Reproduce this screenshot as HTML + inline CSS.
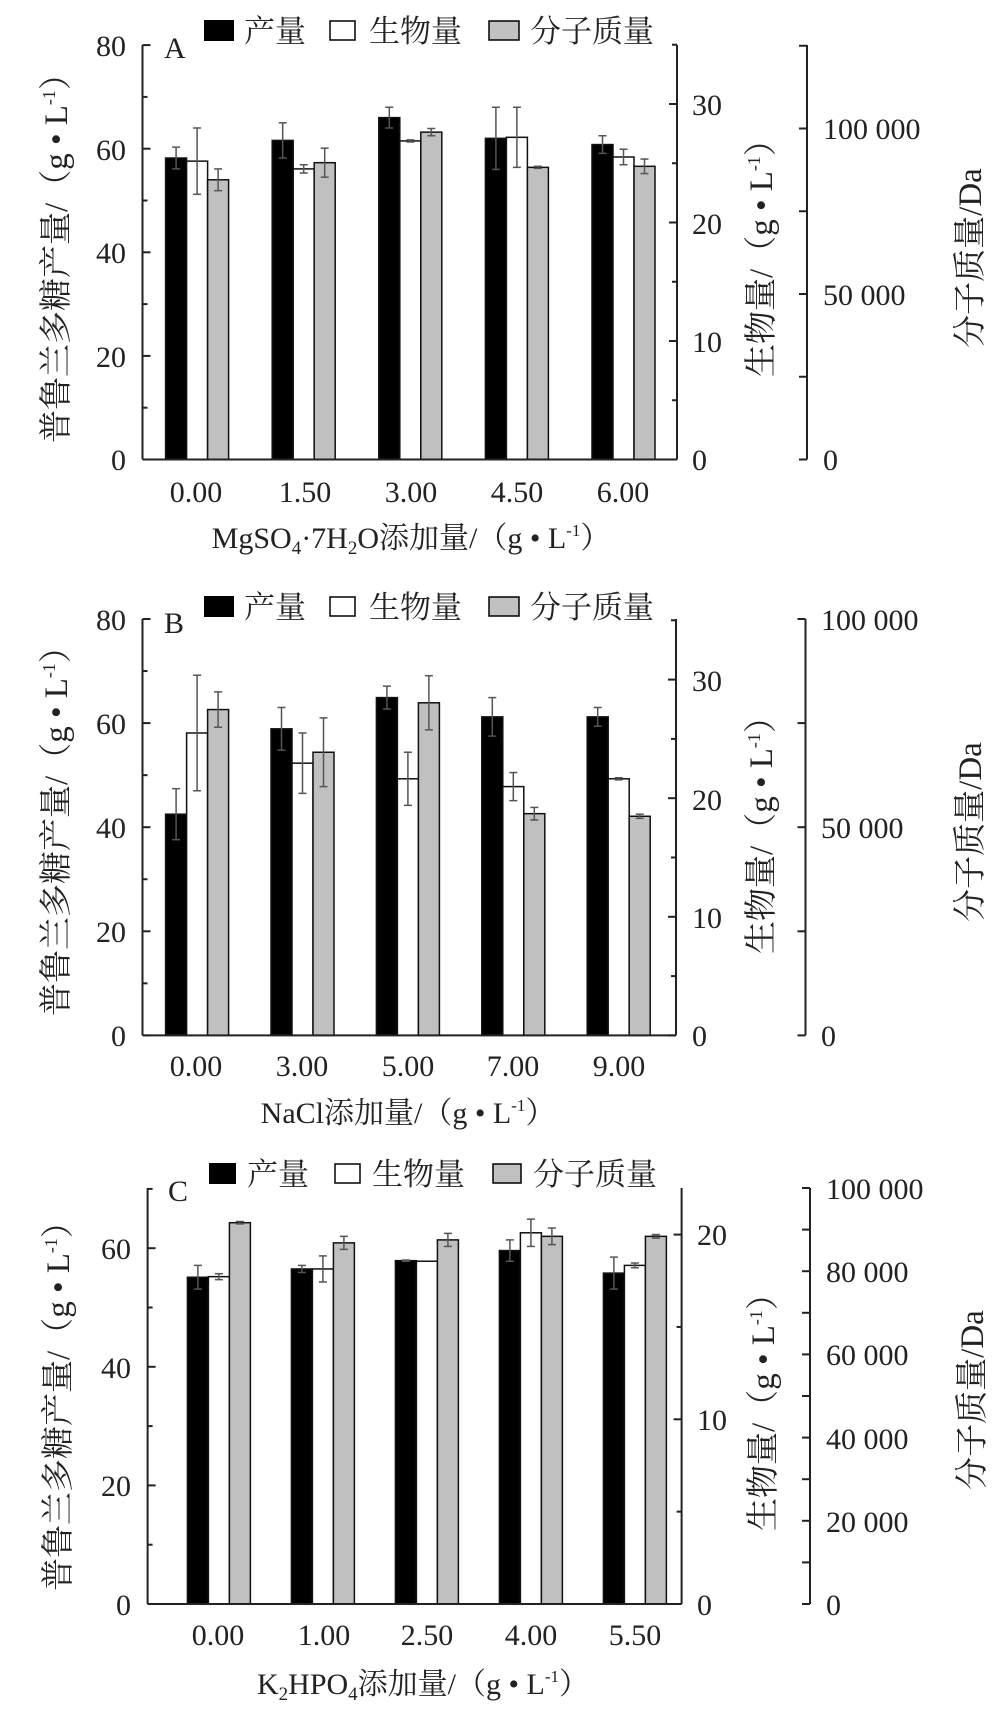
<!DOCTYPE html>
<html><head><meta charset="utf-8"><style>
html,body{margin:0;padding:0;background:#fff}
svg{display:block}
text{font-family:"Liberation Serif","Noto Serif CJK SC","Noto Sans CJK SC",serif;fill:#222}
.t{font-size:30px}
.v{font-size:33px}
.c{font-size:31px}
</style></head><body>
<svg id="s" width="1001" height="1727" viewBox="0 0 1001 1727" xmlns="http://www.w3.org/2000/svg">
<g id="g"></g>
<g class="t" text-anchor="end">
<text x="126" y="56">80</text><text x="126" y="160">60</text><text x="126" y="263">40</text><text x="126" y="367">20</text><text x="126" y="470">0</text>
</g>
<g class="t" text-anchor="start">
<text x="692" y="115">30</text><text x="692" y="234">20</text><text x="692" y="352">10</text><text x="692" y="470">0</text>
<text x="823" y="139">100 000</text><text x="823" y="305">50 000</text><text x="823" y="470">0</text>
</g>
<g class="t" text-anchor="middle">
<text x="196" y="502">0.00</text><text x="305" y="502">1.50</text><text x="411" y="502">3.00</text><text x="517" y="502">4.50</text><text x="623" y="502">6.00</text>
<text x="411" y="548">MgSO<tspan font-size="19" dy="6">4</tspan><tspan dy="-6">·7H</tspan><tspan font-size="19" dy="6">2</tspan><tspan dy="-6">O添加量/（g • L</tspan><tspan font-size="17" dy="-12">-1</tspan><tspan dy="12">）</tspan></text>
</g>
<text class="t" x="164" y="58">A</text>
<rect x="204" y="20" width="30" height="21" fill="#000"/><text class="c" x="244" y="42">产量</text>
<rect x="330" y="21" width="25" height="19" fill="#fff" stroke="#000" stroke-width="1.5"/><text class="c" x="369" y="42">生物量</text>
<rect x="489" y="21" width="30" height="19" fill="#c0c0c0" stroke="#000" stroke-width="1.5"/><text class="c" x="530" y="42">分子质量</text>
<text class="v" text-anchor="middle" transform="translate(67,250) rotate(-90)">普鲁兰多糖产量/（g • L<tspan font-size="18" dy="-12">-1</tspan><tspan dy="12">）</tspan></text>
<text class="v" text-anchor="middle" transform="translate(772,250) rotate(-90)">生物量/（g • L<tspan font-size="18" dy="-12">-1</tspan><tspan dy="12">）</tspan></text>
<text class="v" text-anchor="middle" transform="translate(981,258) rotate(-90)">分子质量/Da</text>

<g class="t" text-anchor="end">
<text x="126" y="630">80</text><text x="126" y="734">60</text><text x="126" y="838">40</text><text x="126" y="942">20</text><text x="126" y="1046">0</text>
</g>
<g class="t" text-anchor="start">
<text x="692" y="691">30</text><text x="692" y="810">20</text><text x="692" y="928">10</text><text x="692" y="1046">0</text>
<text x="821" y="630">100 000</text><text x="821" y="838">50 000</text><text x="821" y="1046">0</text>
</g>
<g class="t" text-anchor="middle">
<text x="196" y="1076">0.00</text><text x="302" y="1076">3.00</text><text x="408" y="1076">5.00</text><text x="513" y="1076">7.00</text><text x="619" y="1076">9.00</text>
<text x="408" y="1123">NaCl添加量/（g • L<tspan font-size="17" dy="-12">-1</tspan><tspan dy="12">）</tspan></text>
</g>
<text class="t" x="164" y="633">B</text>
<rect x="204" y="596" width="30" height="21" fill="#000"/><text class="c" x="244" y="618">产量</text>
<rect x="330" y="597" width="25" height="19" fill="#fff" stroke="#000" stroke-width="1.5"/><text class="c" x="369" y="618">生物量</text>
<rect x="489" y="597" width="30" height="19" fill="#c0c0c0" stroke="#000" stroke-width="1.5"/><text class="c" x="530" y="618">分子质量</text>
<text class="v" text-anchor="middle" transform="translate(67,823) rotate(-90)">普鲁兰多糖产量/（g • L<tspan font-size="18" dy="-12">-1</tspan><tspan dy="12">）</tspan></text>
<text class="v" text-anchor="middle" transform="translate(772,827) rotate(-90)">生物量/（g • L<tspan font-size="18" dy="-12">-1</tspan><tspan dy="12">）</tspan></text>
<text class="v" text-anchor="middle" transform="translate(981,832) rotate(-90)">分子质量/Da</text>

<g class="t" text-anchor="end">
<text x="131" y="1259">60</text><text x="131" y="1378">40</text><text x="131" y="1496">20</text><text x="131" y="1615">0</text>
</g>
<g class="t" text-anchor="start">
<text x="697" y="1245">20</text><text x="697" y="1430">10</text><text x="697" y="1615">0</text>
<text x="826" y="1199">100 000</text><text x="826" y="1282">80 000</text><text x="826" y="1365">60 000</text><text x="826" y="1449">40 000</text><text x="826" y="1532">20 000</text><text x="826" y="1615">0</text>
</g>
<g class="t" text-anchor="middle">
<text x="218" y="1645">0.00</text><text x="324" y="1645">1.00</text><text x="427" y="1645">2.50</text><text x="531" y="1645">4.00</text><text x="635" y="1645">5.50</text>
<text x="423" y="1694">K<tspan font-size="19" dy="6">2</tspan><tspan dy="-6">HPO</tspan><tspan font-size="19" dy="6">4</tspan><tspan dy="-6">添加量/（g • L</tspan><tspan font-size="17" dy="-12">-1</tspan><tspan dy="12">）</tspan></text>
</g>
<text class="t" x="168" y="1201">C</text>
<rect x="209" y="1163" width="27" height="21" fill="#000"/><text class="c" x="247" y="1185">产量</text>
<rect x="335" y="1164" width="25" height="19" fill="#fff" stroke="#000" stroke-width="1.5"/><text class="c" x="372" y="1185">生物量</text>
<rect x="493" y="1164" width="28" height="19" fill="#c0c0c0" stroke="#000" stroke-width="1.5"/><text class="c" x="533" y="1185">分子质量</text>
<text class="v" text-anchor="middle" transform="translate(69,1398) rotate(-90)">普鲁兰多糖产量/（g • L<tspan font-size="18" dy="-12">-1</tspan><tspan dy="12">）</tspan></text>
<text class="v" text-anchor="middle" transform="translate(774,1404) rotate(-90)">生物量/（g • L<tspan font-size="18" dy="-12">-1</tspan><tspan dy="12">）</tspan></text>
<text class="v" text-anchor="middle" transform="translate(983,1400) rotate(-90)">分子质量/Da</text>
</svg>
<script>
var g=document.getElementById('g'),NS='http://www.w3.org/2000/svg';
function el(t,a){var e=document.createElementNS(NS,t);for(var k in a)e.setAttribute(k,a[k]);g.appendChild(e);return e;}
function line(x1,y1,x2,y2,c,w){el('line',{x1:x1,y1:y1,x2:x2,y2:y2,stroke:c||'#222','stroke-width':w||2});}
var P=[
{L:142.5,R:677,R2:807,top:45,base:459.5,ppu:5.18,first:165.6,sp:106.6,
 lt:[0,80,10],r1:11.85,r1t:[0,35,5],r2:165.5/50000,r2t:[0,125000,25000],
 b:[[58.2,2.1],[61.6,3.4],[66,2],[62,6],[60.8,1.7]],
 w:[[57.6,6.4],[56.1,0.8],[61.5,0.2],[62.2,5.8],[58.4,1.5]],
 y:[[54,2.1],[57.3,2.8],[63.2,0.7],[56.4,0.2],[56.6,1.4]]},
{L:142.5,R:676,R2:805.5,top:619,base:1035.4,ppu:5.205,first:165.6,sp:105.4,
 lt:[0,80,10],r1:11.86,r1t:[0,35,5],r2:416.4/100000,r2t:[0,100000,25000],
 b:[[42.5,4.9],[58.9,4.1],[64.9,2.2],[61.2,3.7],[61.2,1.8]],
 w:[[58.1,11.1],[52.3,5.8],[49.3,5.1],[47.8,2.7],[49.3,0.2]],
 y:[[62.6,3.4],[54.4,6.6],[63.9,5.2],[42.6,1.2],[42.1,0.4]]},
{L:147.6,R:681.6,R2:810,top:1188,base:1604,ppu:5.93,first:187.4,sp:104,
 lt:[0,70,10],r1:18.47,r1t:[0,22.5,5],r2:416/100000,r2t:[0,100000,10000],
 b:[[55.1,2],[56.5,0.6],[57.9,0.1],[59.6,1.8],[55.8,2.7]],
 w:[[55.2,0.5],[56.5,2.2],[57.8,0],[62.6,2.3],[57.1,0.4]],
 y:[[64.3,0.2],[60.9,1.1],[61.4,1.1],[62,1.4],[62,0.3]]}];
P.forEach(function(p){
 var bw=21;
 for(var i=0;i<5;i++){
  var x0=p.first+i*p.sp;
  [[p.b,'#000'],[p.w,'#fff'],[p.y,'#c0c0c0']].forEach(function(s,j){
   var v=s[0][i][0],e=s[0][i][1],x=x0+j*bw,h=v*p.ppu,yt=p.base-h;
   el('rect',{x:x,y:yt,width:bw,height:h,fill:s[1],stroke:'#111','stroke-width':1.5});
   if(e>0.05){var cx=x+bw/2,a=yt-e*p.ppu,b=yt+e*p.ppu;
    line(cx,a,cx,b,'#555',1.5);line(cx-4,a,cx+4,a,'#555',1.5);line(cx-4,b,cx+4,b,'#555',1.5);}
  });
 }
 line(p.L,p.top,p.L,p.base);line(p.L,p.base,p.R,p.base);
 line(p.R,p.top,p.R,p.base);line(p.R2,p.top,p.R2,p.base);
 for(var v=p.lt[0];v<=p.lt[1]+0.01;v+=p.lt[2]){var y=p.base-v*p.ppu;line(p.L,y,p.L+((v%20)?5:8),y);}
 for(var v=p.r1t[0];v<=p.r1t[1]+0.01;v+=p.r1t[2]){var y=p.base-v*p.r1;line(p.R,y,p.R-((v%10)?5:8),y);}
 for(var v=p.r2t[0];v<=p.r2t[1]+1;v+=p.r2t[2]){var y=p.base-v*p.r2;line(p.R2,y,p.R2-8,y);}
});
</script>
</body></html>
